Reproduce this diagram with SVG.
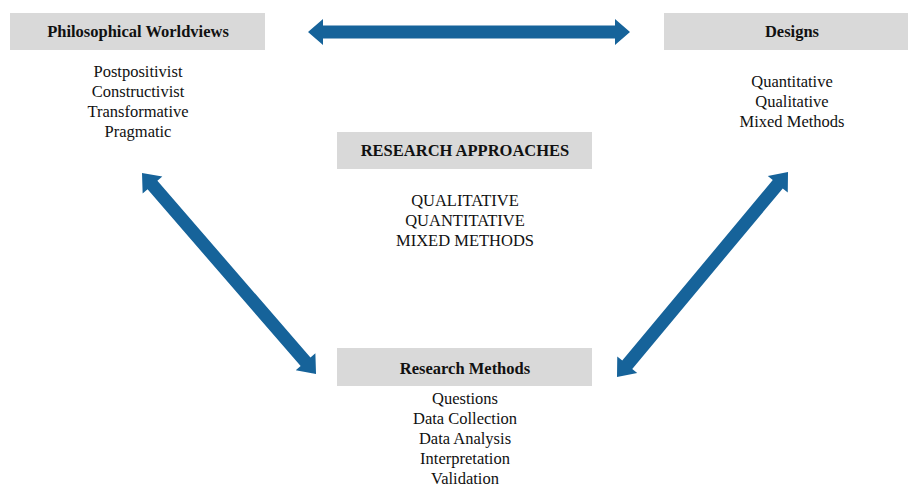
<svg xmlns="http://www.w3.org/2000/svg" width="908" height="487" viewBox="0 0 908 487">
  <defs>
    <style>
      .box { fill: #d9d9d9; }
      .title { font-family: "Liberation Serif", "Times New Roman", serif; font-size: 16.5px; font-weight: bold; fill: #111; text-anchor: middle; }
      .item { font-family: "Liberation Serif", "Times New Roman", serif; font-size: 16.5px; fill: #111; text-anchor: middle; }
      .arrow { fill: #16639a; }
    </style>
  </defs>
  <rect width="908" height="487" fill="#ffffff"/>

  <!-- double-headed connectors, each drawn from tip to tip along local x -->
  <g id="connectors">
    <path class="arrow" transform="translate(308,32)" d="M0,0 L15,-13 L15,-6.5 L307,-6.5 L307,-13 L322,0 L307,13 L307,6.5 L15,6.5 L15,13 Z"/>
    <path class="arrow" transform="translate(142,173) rotate(49.1)" d="M0,0 L16,-13 L16,-6.5 L249.8,-6.5 L249.8,-13 L265.8,0 L249.8,13 L249.8,6.5 L16,6.5 L16,13 Z"/>
    <path class="arrow" transform="translate(617,377) rotate(-50.17)" d="M0,0 L16,-13 L16,-6.5 L251,-6.5 L251,-13 L267,0 L251,13 L251,6.5 L16,6.5 L16,13 Z"/>
  </g>

  <g id="worldviews">
    <rect class="box" x="10" y="13" width="255" height="37"/>
    <text class="title" x="138" y="37">Philosophical Worldviews</text>
    <text class="item" x="138" y="77">Postpositivist</text>
    <text class="item" x="138" y="97">Constructivist</text>
    <text class="item" x="138" y="117">Transformative</text>
    <text class="item" x="138" y="137">Pragmatic</text>
  </g>

  <g id="designs">
    <rect class="box" x="664" y="13" width="244" height="37"/>
    <text class="title" x="792" y="37">Designs</text>
    <text class="item" x="792" y="87">Quantitative</text>
    <text class="item" x="792" y="107">Qualitative</text>
    <text class="item" x="792" y="127">Mixed Methods</text>
  </g>

  <g id="approaches">
    <rect class="box" x="337" y="132" width="255" height="37"/>
    <text class="title" x="465" y="156">RESEARCH APPROACHES</text>
    <text class="item" x="465" y="206">QUALITATIVE</text>
    <text class="item" x="465" y="226">QUANTITATIVE</text>
    <text class="item" x="465" y="246">MIXED METHODS</text>
  </g>

  <g id="methods">
    <rect class="box" x="337" y="348" width="255" height="38"/>
    <text class="title" x="465" y="374">Research Methods</text>
    <text class="item" x="465" y="404">Questions</text>
    <text class="item" x="465" y="424">Data Collection</text>
    <text class="item" x="465" y="444">Data Analysis</text>
    <text class="item" x="465" y="464">Interpretation</text>
    <text class="item" x="465" y="484">Validation</text>
  </g>
</svg>
